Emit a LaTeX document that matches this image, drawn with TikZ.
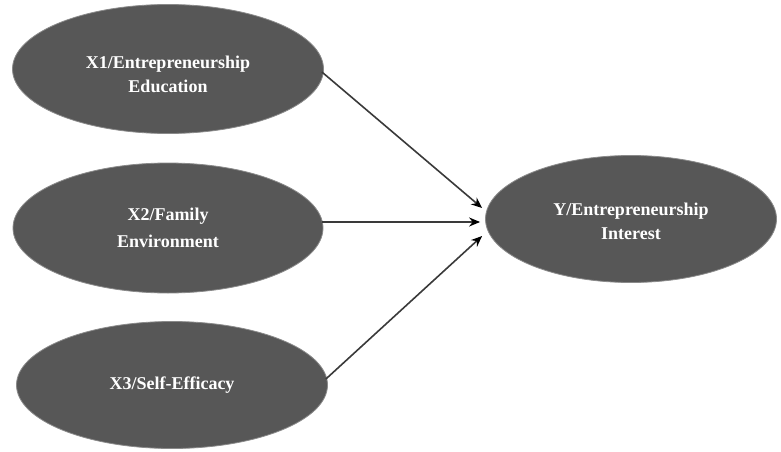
\documentclass[tikz,border=0pt]{standalone}
\usepackage{fontspec}
\setmainfont{Liberation Serif}
\usetikzlibrary{arrows.meta,shapes.geometric}
\definecolor{ovalfill}{HTML}{575757}
\definecolor{ovaledge}{HTML}{8A8A8A}
\definecolor{linecol}{HTML}{3A3A3A}
\begin{document}
\begin{tikzpicture}[x=1pt,y=1pt,
  oval/.style={ellipse, fill=ovalfill, draw=ovaledge, line width=0.8pt, inner sep=0pt,
    text=white, align=center, font=\fontsize{18}{24}\selectfont\bfseries},
  link/.style={draw=linecol, line width=1.6pt, -{Stealth[length=11pt,width=9pt,color=black]}}]
\useasboundingbox[fill=white] (0,0) rectangle (781,451);
\node[oval, minimum width=311pt, minimum height=129pt] (x1) at (168,382) {};
\node[white, align=center, font=\fontsize{18}{24}\selectfont\bfseries] (t1) at (168,377) {X1/Entrepreneurship\\Education};
\node[oval, minimum width=310pt, minimum height=130pt] (x2) at (168,223) {X2/Family\\[3pt]Environment};
\node[oval, minimum width=311pt, minimum height=127pt] (x3) at (172,66) {X3/Self-Efficacy};
\node[oval, minimum width=291pt, minimum height=127pt] (y) at (631,232) {};
\node[white, align=center, font=\fontsize{18}{24}\selectfont\bfseries] (ty) at (631,230) {Y/Entrepreneurship\\Interest};
\coordinate (ytop) at ([xshift=-3pt,yshift=11pt]y.west);
\coordinate (ymid) at ([xshift=-5pt,yshift=-3pt]y.west);
\coordinate (ybot) at ([xshift=-3pt,yshift=-17pt]y.west);
\draw[link] ([xshift=-2pt,yshift=-3pt]x1.east) -- (ytop);
\draw[link] ([xshift=-1pt]x2.east |- ymid) -- (ymid);
\draw[link] ([xshift=-2pt,yshift=6pt]x3.east) -- (ybot);
\end{tikzpicture}
\end{document}
